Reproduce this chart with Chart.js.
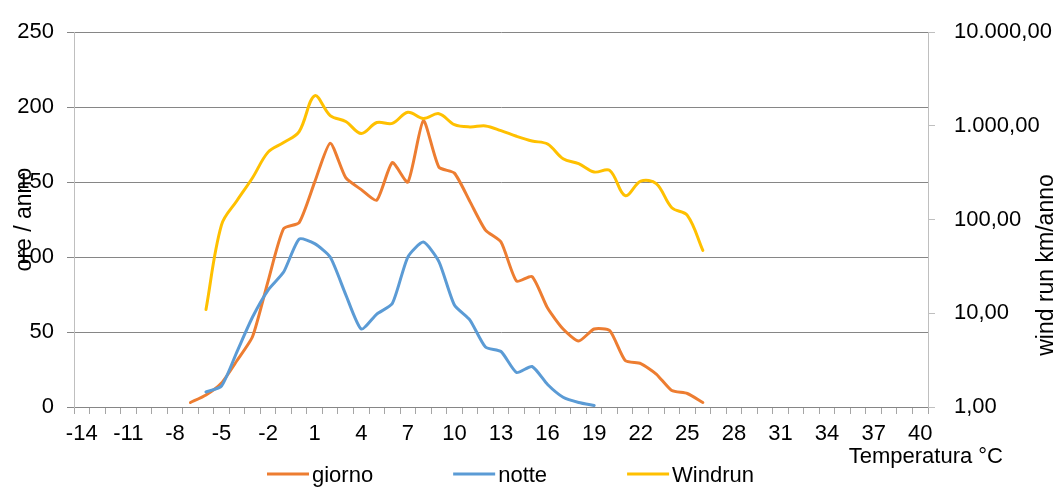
<!DOCTYPE html>
<html>
<head>
<meta charset="utf-8">
<script src="https://cdn.jsdelivr.net/npm/chart.js@4.4.0/dist/chart.umd.min.js"></script>
<style>
  html, body { margin: 0; padding: 0; background: #fff; }
  #wrap { width: 1061px; height: 489px; }
</style>
</head>
<body>
<div id="wrap"><canvas id="grafico" width="1061" height="489"></canvas></div>
<script>
// Temperature (°C) sull'asse x
const temperature = [-14, -13, -12, -11, -10, -9, -8, -7, -6, -5, -4, -3, -2, -1, 0, 1, 2, 3, 4, 5, 6, 7, 8, 9,
    10, 11, 12, 13, 14, 15, 16, 17, 18, 19, 20, 21, 22, 23, 24, 25, 26, 27, 28, 29, 30, 31, 32, 33, 34, 35, 36, 37, 38, 39, 40];
const etichetteX = [-14, -11, -8, -5, -2, 1, 4, 7, 10, 13, 16, 19, 22, 25, 28, 31, 34, 37, 40];

// ore / anno (da -7 a 26 °C)
const giorno = [null, null, null, null, null, null, null,
    3, 8, 16, 31, 47, 84, 119, 123, 150, 176, 153, 145, 138, 163, 150, 191, 160, 156, 137, 118, 110,
    84, 87, 66, 52, 44, 52, 51, 31, 29, 22, 11, 9, 3,
    null, null, null, null, null, null, null, null, null, null, null, null, null, null];
// ore / anno (da -6 a 19 °C)
const notte = [null, null, null, null, null, null, null, null,
    10, 14, 37, 60, 78, 90, 112, 109, 100, 75, 52, 62, 69, 100, 110, 97, 68, 58, 40, 37, 23, 27, 15, 6.5, 3, 1,
    null, null, null, null, null, null, null, null, null, null, null, null, null, null, null, null, null, null, null, null, null];
// wind run km/anno (da -6 a 26 °C)
const windrun = [null, null, null, null, null, null, null, null,
    11, 88, 160, 280, 525, 665, 870, 2100, 1290, 1115, 830, 1087, 1065, 1400, 1200, 1350, 1030, 975, 1000, 890,
    775, 690, 640, 445, 395, 322, 335, 180, 257, 242, 134, 111, 47,
    null, null, null, null, null, null, null, null, null, null, null, null, null, null];

const tickVento = [1, 10, 100, 1000, 10000];
const etichetteVento = ['1,00', '10,00', '100,00', '1.000,00', '10.000,00'];

Chart.defaults.font.family = '"Liberation Sans", Arial, sans-serif';
Chart.defaults.font.size = 22;
Chart.defaults.color = '#000';

// titoli degli assi e legenda disegnati a mano (come in Excel)
const titoliLegenda = {
    id: 'titoliLegenda',
    afterDraw(chart) {
        const ctx = chart.ctx;
        const area = chart.chartArea;
        ctx.save();
        ctx.fillStyle = '#000';

        ctx.font = '23px "Liberation Sans", Arial, sans-serif';
        ctx.translate(area.right + 125, 265);
        ctx.rotate(-Math.PI / 2);
        ctx.textAlign = 'center';
        ctx.textBaseline = 'alphabetic';
        ctx.fillText('wind run km/anno', 0, 0);
        ctx.setTransform(1, 0, 0, 1, 0, 0);

        ctx.font = '22px "Liberation Sans", Arial, sans-serif';
        ctx.textAlign = 'right';
        ctx.fillText('Temperatura °C', area.right + 75, area.bottom + 56);

        // legenda
        ctx.textAlign = 'left';
        let x = 267;
        chart.data.datasets.forEach(ds => {
            ctx.strokeStyle = ds.borderColor;
            ctx.lineWidth = 3;
            ctx.beginPath();
            ctx.moveTo(x, 474);
            ctx.lineTo(x + 42, 474);
            ctx.stroke();
            ctx.fillText(ds.label, x + 45, 482);
            x += 45 + ctx.measureText(ds.label).width + 80;
        });
        ctx.restore();
    }
};

const ctx = document.getElementById('grafico').getContext('2d');
new Chart(ctx, {
    type: 'line',
    data: {
        labels: temperature,
        datasets: [{
            label: 'giorno',
            data: giorno,
            borderColor: '#ED7D31',
            yAxisID: 'y',
            order: 2,
            tension: 0.2
        }, {
            label: 'notte',
            data: notte,
            borderColor: '#5B9BD5',
            yAxisID: 'y',
            order: 1,
            tension: 0.2
        }, {
            label: 'Windrun',
            data: windrun,
            borderColor: '#FFC000',
            yAxisID: 'y2',
            order: 0,
            tension: 0.35
        }]
    },
    options: {
        responsive: false,
        animation: false,
        layout: { padding: { top: 21, left: 0, right: 0, bottom: 42 } },
        elements: {
            point: { radius: 0 },
            line: { borderWidth: 3, borderCapStyle: 'round', borderJoinStyle: 'round', fill: false }
        },
        plugins: {
            legend: { display: false },
            tooltip: { enabled: false }
        },
        scales: {
            x: {
                type: 'category',
                offset: true,
                grid: { offset: true, drawOnChartArea: false, tickLength: 7, tickColor: '#a6a6a6' },
                border: { color: '#868686' },
                ticks: {
                    autoSkip: false,
                    maxRotation: 0,
                    minRotation: 0,
                    padding: 7,
                    callback: (value, index) => etichetteX.includes(temperature[index]) ? String(temperature[index]) : ''
                },
                afterFit: s => { s.height = 40; }
            },
            y: {
                position: 'left',
                min: 0,
                max: 250,
                ticks: { stepSize: 50, padding: 13 },
                grid: { color: '#868686', tickColor: '#868686', tickLength: 7 },
                border: { color: '#bfbfbf' },
                title: {
                    display: true,
                    text: 'ore / anno',
                    font: { size: 23 },
                    padding: { top: 11, bottom: 0 }
                },
                afterFit: s => { s.width = 74; }
            },
            y2: {
                type: 'logarithmic',
                position: 'right',
                min: 1,
                max: 10000,
                grid: { drawOnChartArea: false, tickColor: '#bfbfbf', tickLength: 7 },
                border: { color: '#bfbfbf' },
                afterBuildTicks: s => { s.ticks = tickVento.map(v => ({ value: v })); },
                ticks: {
                    padding: 19,
                    callback: value => etichetteVento[tickVento.indexOf(value)]
                },
                afterFit: s => { s.width = 133; }
            }
        }
    },
    plugins: [titoliLegenda]
});
</script>
</body>
</html>
